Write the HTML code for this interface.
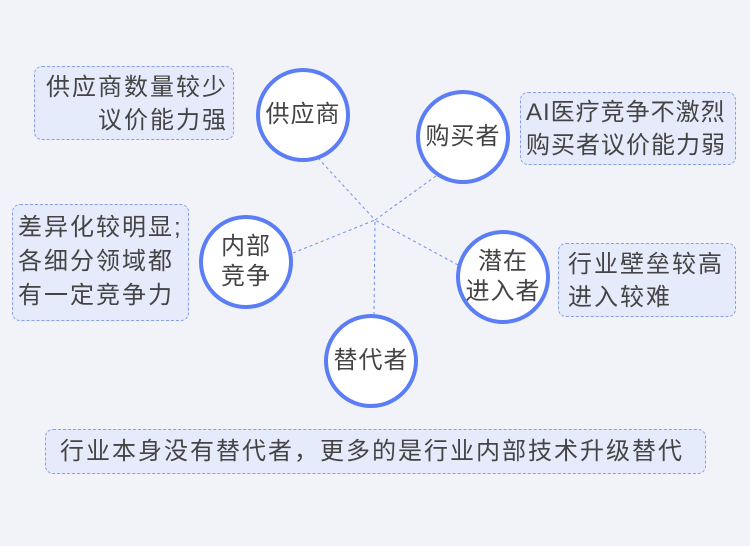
<!DOCTYPE html>
<html><head><meta charset="utf-8"><style>
body{margin:0;width:750px;height:546px;background:#f1f3f8;position:relative;overflow:hidden;font-family:"Liberation Sans","Noto Sans CJK SC",sans-serif;color:#444;}
.b{position:absolute;box-sizing:border-box;background:#e6ebfb;border:1px dashed #86a0ee;border-radius:8px;font-size:24px;line-height:33px;letter-spacing:2px;white-space:nowrap;}
.c{position:absolute;box-sizing:border-box;width:94px;height:94px;border-radius:50%;background:#fff;border:4px solid #5b7df5;display:flex;align-items:center;justify-content:center;text-align:center;font-size:24px;line-height:30px;letter-spacing:1px;}
</style></head><body>
<svg width="750" height="546" style="position:absolute;left:0;top:0">
<g stroke="#6f8ef0" stroke-width="1" stroke-dasharray="3,3" fill="none">
<line x1="318" y1="158" x2="375" y2="220"/>
<line x1="436" y1="176" x2="375" y2="220"/>
<line x1="293" y1="253" x2="375" y2="220"/>
<line x1="458" y1="265" x2="375" y2="220"/>
<line x1="374" y1="315" x2="375" y2="220"/>
</g></svg>
<div class="b" style="left:34px;top:66px;width:200px;height:74px;text-align:right;padding:4px 5px 0 0">供应商数量较少<br>议价能力强</div>
<div class="b" style="left:12px;top:204px;width:177px;height:117px;padding:6px 0 0 5px;line-height:34px">差异化较明显;<br>各细分领域都<br>有一定竞争力</div>
<div class="b" style="left:520px;top:92px;width:216px;height:73px;padding:3px 0 0 5px;letter-spacing:1px">AI医疗竞争不激烈<br>购买者议价能力弱</div>
<div class="b" style="left:558px;top:243px;width:178px;height:74px;padding:4px 0 0 9px">行业壁垒较高<br>进入较难</div>
<div class="b" style="left:45px;top:429px;width:661px;height:45px;padding:5px 0 0 14px">行业本身没有替代者，更多的是行业内部技术升级替代</div>
<div class="c" style="left:256px;top:68px">供应商</div>
<div class="c" style="left:416px;top:90px">购买者</div>
<div class="c" style="left:199px;top:215px">内部<br>竞争</div>
<div class="c" style="left:456px;top:230px">潜在<br>进入者</div>
<div class="c" style="left:324px;top:314px">替代者</div>
</body></html>
